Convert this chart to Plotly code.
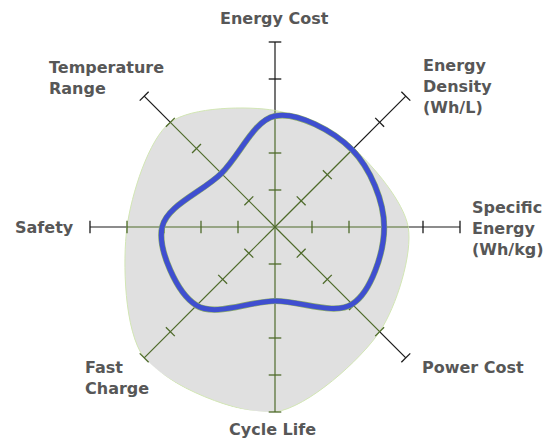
import plotly.graph_objects as go

categories = ["Energy Cost", "Energy Density (Wh/L)", "Specific Energy (Wh/kg)", "Power Cost",
              "Cycle Life", "Fast Charge", "Safety", "Temperature Range"]
label_text = ["Energy Cost", "Energy<br>Density<br>(Wh/L)", "Specific<br>Energy<br>(Wh/kg)", "Power Cost",
              "Cycle Life", "Fast<br>Charge", "Safety", "Temperature<br>Range"]
battery_values = [3.0, 2.95, 2.95, 2.95, 2.0, 3.0, 3.05, 2.05]
envelope_values = [3.15, 3.0, 3.6, 4.0, 5.0, 5.0, 4.0, 4.0]
tick_values = [1, 2, 3, 4, 5]
r_max = 5

BLACK = "#1a1a1a"
GREEN = "#4e6a2a"
TEXT = "#575757"

fig = go.Figure()

# full axes (black)
for c in categories:
    fig.add_trace(go.Scatterpolar(r=[0, r_max], theta=[c, c], mode="lines",
                                  line=dict(color=BLACK, width=1.2), hoverinfo="skip"))

# grey envelope
fig.add_trace(go.Scatterpolar(r=envelope_values + envelope_values[:1], theta=categories + categories[:1],
                              mode="lines", fill="toself", fillcolor="#e0e0e0",
                              line=dict(color="#d2e6b4", width=1, shape="spline", smoothing=0.85),
                              hoverinfo="skip"))

# axis parts within envelope (green)
for c, ev in zip(categories, envelope_values):
    fig.add_trace(go.Scatterpolar(r=[0, ev], theta=[c, c], mode="lines",
                                  line=dict(color=GREEN, width=1.2), hoverinfo="skip"))

# ticks
for i, (c, ev) in enumerate(zip(categories, envelope_values)):
    cols = [GREEN if t <= ev + 0.01 else BLACK for t in tick_values]
    fig.add_trace(go.Scatterpolar(r=tick_values, theta=[c] * len(tick_values), mode="markers",
                                  marker=dict(symbol="line-ew", size=9, angle=i * 45,
                                              line=dict(color=cols, width=1.3)),
                                  hoverinfo="skip"))

# battery curve
fig.add_trace(go.Scatterpolar(r=battery_values + battery_values[:1], theta=categories + categories[:1],
                              mode="lines",
                              line=dict(color="#8aa86a", width=6.2, shape="spline", smoothing=1.0),
                              hoverinfo="skip"))
fig.add_trace(go.Scatterpolar(r=battery_values + battery_values[:1], theta=categories + categories[:1],
                              mode="lines",
                              line=dict(color="#3f4fd0", width=5, shape="spline", smoothing=1.0),
                              hoverinfo="skip"))

# page body has an 8px margin: figure drawn 8px in from the window's top-left
OFF = 8
W, H = 552 - OFF, 440 - OFF
cx, cy, R = 275 - OFF, 227 - OFF, 185

# label anchor points in window pixels
label_pos = [(274, 19, "center", "middle", "center"),
             (421, 87, "left", "middle", "left"),
             (470, 228, "left", "middle", "left"),
             (420, 367, "left", "middle", "left"),
             (272, 429, "center", "middle", "center"),
             (83, 378, "left", "middle", "left"),
             (76, 227, "right", "middle", "right"),
             (47, 78, "left", "middle", "left")]
annotations = []
for txt, (px, py, xa, ya, al) in zip(label_text, label_pos):
    annotations.append(dict(text=txt, x=(px - OFF) / W, y=1 - (py - OFF) / H, xref="paper", yref="paper",
                            xanchor=xa, yanchor=ya, align=al, showarrow=False,
                            font=dict(family="DejaVu Sans", size=16, color=TEXT, weight="bold")))

fig.update_layout(
    width=W, height=H,
    margin=dict(l=0, r=0, t=0, b=0),
    paper_bgcolor="white",
    showlegend=False,
    annotations=annotations,
    polar=dict(
        domain=dict(x=[(cx - R) / W, (cx + R) / W], y=[1 - (cy + R) / H, 1 - (cy - R) / H]),
        bgcolor="rgba(0,0,0,0)",
        radialaxis=dict(range=[0, r_max], visible=False),
        angularaxis=dict(direction="clockwise", rotation=90, visible=False,
                         categoryorder="array", categoryarray=categories),
    ),
)

fig.write_html("out.html")
